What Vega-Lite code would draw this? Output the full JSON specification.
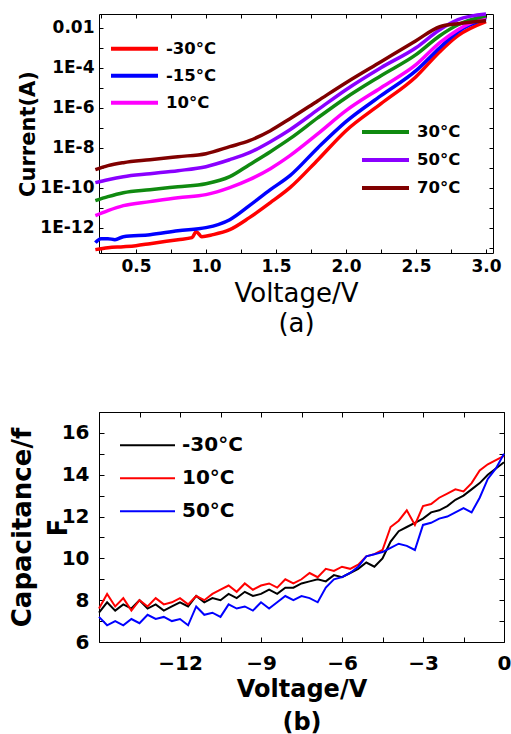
{
  "$schema": "https://vega.github.io/schema/vega-lite/v6.json",
  "padding": {"left": 8, "top": 6, "right": 0, "bottom": 0},
  "autosize": {"type": "pad"},
  "background": "white",
  "config": {
    "font": "DejaVu Sans",
    "view": {"stroke": "#000", "strokeWidth": 1},
    "axis": {"domain": false, "grid": false, "tickColor": "#000", "labelColor": "#000", "titleColor": "#000", "labelFont": "DejaVu Sans", "labelFontWeight": "bold", "titleFont": "DejaVu Sans", "labelFlush": false, "labelOverlap": false},
    "legend": {"labelColor": "#000", "labelFont": "DejaVu Sans", "labelFontWeight": "bold", "symbolType": "stroke", "padding": 0, "rowPadding": 0}
  },
  "spacing": 64,
  "datasets": {
    "iv_cold": [
      {"V": 0.21, "I": 7.94e-14, "T": "-30°C"}, {"V": 0.3, "I": 1e-13, "T": "-30°C"}, {"V": 0.41, "I": 1.12e-13, "T": "-30°C"}, {"V": 0.5, "I": 1.26e-13, "T": "-30°C"}, {"V": 0.6, "I": 1.58e-13, "T": "-30°C"}, {"V": 0.8, "I": 2.51e-13, "T": "-30°C"}, {"V": 0.9, "I": 3.16e-13, "T": "-30°C"}, {"V": 0.93, "I": 6.31e-13, "T": "-30°C"}, {"V": 0.97, "I": 3.55e-13, "T": "-30°C"}, {"V": 1.05, "I": 4.47e-13, "T": "-30°C"}, {"V": 1.17, "I": 7.94e-13, "T": "-30°C"}, {"V": 1.31, "I": 3.16e-12, "T": "-30°C"}, {"V": 1.46, "I": 1.78e-11, "T": "-30°C"}, {"V": 1.6, "I": 1e-10, "T": "-30°C"}, {"V": 1.8, "I": 2.51e-9, "T": "-30°C"}, {"V": 2.0, "I": 7.08e-8, "T": "-30°C"}, {"V": 2.25, "I": 1.58e-6, "T": "-30°C"}, {"V": 2.5, "I": 3.55e-5, "T": "-30°C"}, {"V": 2.67, "I": 6.31e-4, "T": "-30°C"}, {"V": 2.8, "I": 3.98e-3, "T": "-30°C"}, {"V": 3.0, "I": 2.0e-2, "T": "-30°C"},
      {"V": 0.21, "I": 1.78e-13, "T": "-15°C"}, {"V": 0.25, "I": 2.82e-13, "T": "-15°C"}, {"V": 0.3, "I": 2.82e-13, "T": "-15°C"}, {"V": 0.35, "I": 2.51e-13, "T": "-15°C"}, {"V": 0.41, "I": 3.55e-13, "T": "-15°C"}, {"V": 0.6, "I": 4.47e-13, "T": "-15°C"}, {"V": 0.8, "I": 7.08e-13, "T": "-15°C"}, {"V": 1.0, "I": 1e-12, "T": "-15°C"}, {"V": 1.17, "I": 2.51e-12, "T": "-15°C"}, {"V": 1.31, "I": 1.26e-11, "T": "-15°C"}, {"V": 1.46, "I": 7.94e-11, "T": "-15°C"}, {"V": 1.6, "I": 3.98e-10, "T": "-15°C"}, {"V": 1.8, "I": 1e-8, "T": "-15°C"}, {"V": 2.0, "I": 2.0e-7, "T": "-15°C"}, {"V": 2.25, "I": 3.98e-6, "T": "-15°C"}, {"V": 2.5, "I": 7.08e-5, "T": "-15°C"}, {"V": 2.67, "I": 1e-3, "T": "-15°C"}, {"V": 2.8, "I": 6.31e-3, "T": "-15°C"}, {"V": 3.0, "I": 2.82e-2, "T": "-15°C"},
      {"V": 0.21, "I": 3.98e-12, "T": "10°C"}, {"V": 0.3, "I": 7.08e-12, "T": "10°C"}, {"V": 0.41, "I": 1.26e-11, "T": "10°C"}, {"V": 0.6, "I": 2.0e-11, "T": "10°C"}, {"V": 0.8, "I": 3.16e-11, "T": "10°C"}, {"V": 1.0, "I": 4.47e-11, "T": "10°C"}, {"V": 1.17, "I": 1e-10, "T": "10°C"}, {"V": 1.31, "I": 2.51e-10, "T": "10°C"}, {"V": 1.46, "I": 8.91e-10, "T": "10°C"}, {"V": 1.6, "I": 3.98e-9, "T": "10°C"}, {"V": 1.8, "I": 5.01e-8, "T": "10°C"}, {"V": 2.0, "I": 7.08e-7, "T": "10°C"}, {"V": 2.25, "I": 1e-5, "T": "10°C"}, {"V": 2.5, "I": 1.41e-4, "T": "10°C"}, {"V": 2.67, "I": 1.78e-3, "T": "10°C"}, {"V": 2.8, "I": 7.94e-3, "T": "10°C"}, {"V": 3.0, "I": 3.55e-2, "T": "10°C"}
    ],
    "iv_warm": [
      {"V": 0.21, "I": 2.24e-11, "T": "30°C"}, {"V": 0.3, "I": 3.55e-11, "T": "30°C"}, {"V": 0.41, "I": 5.62e-11, "T": "30°C"}, {"V": 0.6, "I": 7.94e-11, "T": "30°C"}, {"V": 0.8, "I": 1.12e-10, "T": "30°C"}, {"V": 1.0, "I": 1.58e-10, "T": "30°C"}, {"V": 1.17, "I": 3.55e-10, "T": "30°C"}, {"V": 1.31, "I": 1.41e-9, "T": "30°C"}, {"V": 1.46, "I": 6.31e-9, "T": "30°C"}, {"V": 1.6, "I": 2.82e-8, "T": "30°C"}, {"V": 1.8, "I": 3.16e-7, "T": "30°C"}, {"V": 2.0, "I": 3.16e-6, "T": "30°C"}, {"V": 2.25, "I": 3.98e-5, "T": "30°C"}, {"V": 2.5, "I": 4.47e-4, "T": "30°C"}, {"V": 2.67, "I": 3.98e-3, "T": "30°C"}, {"V": 2.8, "I": 1.41e-2, "T": "30°C"}, {"V": 3.0, "I": 3.98e-2, "T": "30°C"},
      {"V": 0.21, "I": 1.78e-10, "T": "50°C"}, {"V": 0.3, "I": 2.51e-10, "T": "50°C"}, {"V": 0.41, "I": 3.55e-10, "T": "50°C"}, {"V": 0.6, "I": 5.01e-10, "T": "50°C"}, {"V": 0.8, "I": 7.08e-10, "T": "50°C"}, {"V": 1.0, "I": 1.12e-9, "T": "50°C"}, {"V": 1.17, "I": 2.51e-9, "T": "50°C"}, {"V": 1.31, "I": 5.62e-9, "T": "50°C"}, {"V": 1.46, "I": 2.0e-8, "T": "50°C"}, {"V": 1.6, "I": 7.94e-8, "T": "50°C"}, {"V": 1.8, "I": 7.94e-7, "T": "50°C"}, {"V": 2.0, "I": 7.94e-6, "T": "50°C"}, {"V": 2.25, "I": 1e-4, "T": "50°C"}, {"V": 2.5, "I": 1e-3, "T": "50°C"}, {"V": 2.67, "I": 7.94e-3, "T": "50°C"}, {"V": 2.8, "I": 2.51e-2, "T": "50°C"}, {"V": 3.0, "I": 4.8e-2, "T": "50°C"},
      {"V": 0.21, "I": 7.94e-10, "T": "70°C"}, {"V": 0.3, "I": 1.26e-9, "T": "70°C"}, {"V": 0.41, "I": 1.78e-9, "T": "70°C"}, {"V": 0.6, "I": 2.51e-9, "T": "70°C"}, {"V": 0.8, "I": 3.55e-9, "T": "70°C"}, {"V": 1.0, "I": 5.01e-9, "T": "70°C"}, {"V": 1.17, "I": 1.12e-8, "T": "70°C"}, {"V": 1.31, "I": 2.24e-8, "T": "70°C"}, {"V": 1.46, "I": 7.08e-8, "T": "70°C"}, {"V": 1.6, "I": 2.82e-7, "T": "70°C"}, {"V": 1.8, "I": 2.24e-6, "T": "70°C"}, {"V": 2.0, "I": 1.78e-5, "T": "70°C"}, {"V": 2.25, "I": 2.0e-4, "T": "70°C"}, {"V": 2.5, "I": 2.24e-3, "T": "70°C"}, {"V": 2.67, "I": 1.12e-2, "T": "70°C"}, {"V": 2.8, "I": 1.58e-2, "T": "70°C"}, {"V": 3.0, "I": 2.24e-2, "T": "70°C"}
    ],
    "cv_a": [
      {"V": -15, "C": 7.4, "T": "-30°C"}, {"V": -14.7, "C": 7.9, "T": "-30°C"}, {"V": -14.4, "C": 7.5, "T": "-30°C"}, {"V": -14.1, "C": 7.8, "T": "-30°C"}, {"V": -13.8, "C": 7.6, "T": "-30°C"}, {"V": -13.5, "C": 8.0, "T": "-30°C"}, {"V": -13.2, "C": 7.6, "T": "-30°C"}, {"V": -12.9, "C": 7.8, "T": "-30°C"}, {"V": -12.6, "C": 7.5, "T": "-30°C"}, {"V": -12.3, "C": 7.7, "T": "-30°C"}, {"V": -12, "C": 7.9, "T": "-30°C"}, {"V": -11.7, "C": 7.7, "T": "-30°C"}, {"V": -11.4, "C": 8.2, "T": "-30°C"}, {"V": -11.1, "C": 7.9, "T": "-30°C"}, {"V": -10.8, "C": 8.1, "T": "-30°C"}, {"V": -10.5, "C": 8.0, "T": "-30°C"}, {"V": -10.2, "C": 8.3, "T": "-30°C"}, {"V": -9.9, "C": 8.1, "T": "-30°C"}, {"V": -9.6, "C": 8.4, "T": "-30°C"}, {"V": -9.3, "C": 8.2, "T": "-30°C"}, {"V": -9, "C": 8.3, "T": "-30°C"}, {"V": -8.7, "C": 8.5, "T": "-30°C"}, {"V": -8.4, "C": 8.3, "T": "-30°C"}, {"V": -8.1, "C": 8.6, "T": "-30°C"}, {"V": -7.8, "C": 8.6, "T": "-30°C"}, {"V": -7.5, "C": 8.8, "T": "-30°C"}, {"V": -7.2, "C": 8.9, "T": "-30°C"}, {"V": -6.9, "C": 9.0, "T": "-30°C"}, {"V": -6.6, "C": 8.9, "T": "-30°C"}, {"V": -6.3, "C": 9.2, "T": "-30°C"}, {"V": -6, "C": 9.1, "T": "-30°C"}, {"V": -5.7, "C": 9.3, "T": "-30°C"}, {"V": -5.4, "C": 9.5, "T": "-30°C"}, {"V": -5.1, "C": 9.8, "T": "-30°C"}, {"V": -4.8, "C": 9.6, "T": "-30°C"}, {"V": -4.5, "C": 10.0, "T": "-30°C"}, {"V": -4.2, "C": 10.8, "T": "-30°C"}, {"V": -3.9, "C": 11.3, "T": "-30°C"}, {"V": -3.6, "C": 11.5, "T": "-30°C"}, {"V": -3.3, "C": 11.7, "T": "-30°C"}, {"V": -3, "C": 11.9, "T": "-30°C"}, {"V": -2.7, "C": 12.2, "T": "-30°C"}, {"V": -2.4, "C": 12.3, "T": "-30°C"}, {"V": -2.1, "C": 12.5, "T": "-30°C"}, {"V": -1.8, "C": 12.8, "T": "-30°C"}, {"V": -1.5, "C": 13.0, "T": "-30°C"}, {"V": -1.2, "C": 13.3, "T": "-30°C"}, {"V": -0.9, "C": 13.6, "T": "-30°C"}, {"V": -0.6, "C": 14.0, "T": "-30°C"}, {"V": -0.3, "C": 14.3, "T": "-30°C"}, {"V": 0, "C": 14.6, "T": "-30°C"},
      {"V": -15, "C": 7.6, "T": "10°C"}, {"V": -14.7, "C": 8.3, "T": "10°C"}, {"V": -14.4, "C": 7.7, "T": "10°C"}, {"V": -14.1, "C": 8.1, "T": "10°C"}, {"V": -13.8, "C": 7.5, "T": "10°C"}, {"V": -13.5, "C": 8.0, "T": "10°C"}, {"V": -13.2, "C": 7.7, "T": "10°C"}, {"V": -12.9, "C": 8.1, "T": "10°C"}, {"V": -12.6, "C": 7.8, "T": "10°C"}, {"V": -12.3, "C": 7.9, "T": "10°C"}, {"V": -12, "C": 8.1, "T": "10°C"}, {"V": -11.7, "C": 7.8, "T": "10°C"}, {"V": -11.4, "C": 8.2, "T": "10°C"}, {"V": -11.1, "C": 8.0, "T": "10°C"}, {"V": -10.8, "C": 8.3, "T": "10°C"}, {"V": -10.5, "C": 8.5, "T": "10°C"}, {"V": -10.2, "C": 8.7, "T": "10°C"}, {"V": -9.9, "C": 8.4, "T": "10°C"}, {"V": -9.6, "C": 8.8, "T": "10°C"}, {"V": -9.3, "C": 8.5, "T": "10°C"}, {"V": -9, "C": 8.7, "T": "10°C"}, {"V": -8.7, "C": 8.8, "T": "10°C"}, {"V": -8.4, "C": 8.6, "T": "10°C"}, {"V": -8.1, "C": 9.0, "T": "10°C"}, {"V": -7.8, "C": 8.8, "T": "10°C"}, {"V": -7.5, "C": 9.0, "T": "10°C"}, {"V": -7.2, "C": 9.3, "T": "10°C"}, {"V": -6.9, "C": 9.1, "T": "10°C"}, {"V": -6.6, "C": 9.5, "T": "10°C"}, {"V": -6.3, "C": 9.4, "T": "10°C"}, {"V": -6, "C": 9.6, "T": "10°C"}, {"V": -5.7, "C": 9.5, "T": "10°C"}, {"V": -5.4, "C": 9.7, "T": "10°C"}, {"V": -5.1, "C": 10.1, "T": "10°C"}, {"V": -4.8, "C": 10.2, "T": "10°C"}, {"V": -4.5, "C": 10.4, "T": "10°C"}, {"V": -4.2, "C": 11.5, "T": "10°C"}, {"V": -3.9, "C": 11.8, "T": "10°C"}, {"V": -3.6, "C": 12.3, "T": "10°C"}, {"V": -3.3, "C": 11.6, "T": "10°C"}, {"V": -3, "C": 12.5, "T": "10°C"}, {"V": -2.7, "C": 12.6, "T": "10°C"}, {"V": -2.4, "C": 12.9, "T": "10°C"}, {"V": -2.1, "C": 13.1, "T": "10°C"}, {"V": -1.8, "C": 13.3, "T": "10°C"}, {"V": -1.5, "C": 13.2, "T": "10°C"}, {"V": -1.2, "C": 13.6, "T": "10°C"}, {"V": -0.9, "C": 14.2, "T": "10°C"}, {"V": -0.6, "C": 14.5, "T": "10°C"}, {"V": -0.3, "C": 14.7, "T": "10°C"}, {"V": 0, "C": 14.9, "T": "10°C"}
    ],
    "cv_b": [
      {"V": -15, "C": 7.2, "T": "50°C"}, {"V": -14.7, "C": 6.8, "T": "50°C"}, {"V": -14.4, "C": 7.0, "T": "50°C"}, {"V": -14.1, "C": 6.8, "T": "50°C"}, {"V": -13.8, "C": 7.1, "T": "50°C"}, {"V": -13.5, "C": 6.9, "T": "50°C"}, {"V": -13.2, "C": 7.3, "T": "50°C"}, {"V": -12.9, "C": 7.1, "T": "50°C"}, {"V": -12.6, "C": 7.2, "T": "50°C"}, {"V": -12.3, "C": 7.0, "T": "50°C"}, {"V": -12, "C": 7.1, "T": "50°C"}, {"V": -11.7, "C": 6.8, "T": "50°C"}, {"V": -11.4, "C": 7.7, "T": "50°C"}, {"V": -11.1, "C": 7.3, "T": "50°C"}, {"V": -10.8, "C": 7.4, "T": "50°C"}, {"V": -10.5, "C": 7.2, "T": "50°C"}, {"V": -10.2, "C": 7.8, "T": "50°C"}, {"V": -9.9, "C": 7.6, "T": "50°C"}, {"V": -9.6, "C": 7.7, "T": "50°C"}, {"V": -9.3, "C": 7.5, "T": "50°C"}, {"V": -9, "C": 7.9, "T": "50°C"}, {"V": -8.7, "C": 7.6, "T": "50°C"}, {"V": -8.4, "C": 7.9, "T": "50°C"}, {"V": -8.1, "C": 8.2, "T": "50°C"}, {"V": -7.8, "C": 8.0, "T": "50°C"}, {"V": -7.5, "C": 8.2, "T": "50°C"}, {"V": -7.2, "C": 8.1, "T": "50°C"}, {"V": -6.9, "C": 7.9, "T": "50°C"}, {"V": -6.6, "C": 8.6, "T": "50°C"}, {"V": -6.3, "C": 9.0, "T": "50°C"}, {"V": -6, "C": 9.1, "T": "50°C"}, {"V": -5.7, "C": 9.3, "T": "50°C"}, {"V": -5.4, "C": 9.6, "T": "50°C"}, {"V": -5.1, "C": 10.1, "T": "50°C"}, {"V": -4.8, "C": 10.2, "T": "50°C"}, {"V": -4.5, "C": 10.3, "T": "50°C"}, {"V": -4.2, "C": 10.5, "T": "50°C"}, {"V": -3.9, "C": 10.7, "T": "50°C"}, {"V": -3.6, "C": 10.6, "T": "50°C"}, {"V": -3.3, "C": 10.4, "T": "50°C"}, {"V": -3, "C": 11.6, "T": "50°C"}, {"V": -2.7, "C": 11.7, "T": "50°C"}, {"V": -2.4, "C": 11.9, "T": "50°C"}, {"V": -2.1, "C": 12.0, "T": "50°C"}, {"V": -1.8, "C": 12.2, "T": "50°C"}, {"V": -1.5, "C": 12.4, "T": "50°C"}, {"V": -1.2, "C": 12.2, "T": "50°C"}, {"V": -0.9, "C": 12.9, "T": "50°C"}, {"V": -0.6, "C": 13.8, "T": "50°C"}, {"V": -0.3, "C": 14.3, "T": "50°C"}, {"V": 0, "C": 15.0, "T": "50°C"}
    ]
  },
  "vconcat": [
    {
      "width": 394,
      "height": 239,
      "layer": [
        {
          "data": {"name": "iv_cold"},
          "mark": {"type": "line", "strokeWidth": 3.5, "interpolate": "monotone"},
          "encoding": {
            "x": {"field": "V", "type": "quantitative", "scale": {"domain": [0.236, 3.05], "nice": false, "zero": false},
              "axis": {"values": [0.25, 0.5, 0.75, 1.0, 1.25, 1.5, 1.75, 2.0, 2.25, 2.5, 2.75, 3.0], "labelExpr": "abs(datum.value*2 - round(datum.value*2)) < 0.001 ? format(datum.value, '.1f') : ''", "labelFontSize": 17, "tickSize": -4, "labelPadding": 9, "title": ["Voltage/V", "(a)"], "titleFontSize": 26, "titleFontWeight": "normal", "titleLineHeight": 30, "titlePadding": 6}},
            "y": {"field": "I", "type": "quantitative", "scale": {"type": "log", "domain": [5.4e-14, 0.0485], "nice": false},
              "axis": {"values": [1e-13, 1e-12, 1e-11, 1e-10, 1e-9, 1e-8, 1e-7, 1e-6, 1e-5, 1e-4, 1e-3, 1e-2], "labelExpr": "(round(log(datum.value)/LN10) % 2 == 0) ? (round(log(datum.value)/LN10) == -2 ? '0.01' : '1E' + round(log(datum.value)/LN10)) : ''", "labelFontSize": 17, "tickSize": -4, "labelPadding": 9, "title": "Current(A)", "titleFontSize": 21, "titleFontWeight": "bold", "titlePadding": 1}},
            "color": {"field": "T", "type": "nominal", "scale": {"domain": ["-30°C", "-15°C", "10°C"], "range": ["#ff0000", "#0000ff", "#ff00ff"]},
              "legend": {"title": null, "orient": "none", "legendX": 10, "legendY": 21.5, "symbolSize": 2209, "symbolStrokeWidth": 4, "clipHeight": 26.5, "labelFontSize": 16.5, "labelOffset": 6}}
          }
        },
        {
          "data": {"name": "iv_warm"},
          "mark": {"type": "line", "strokeWidth": 3.5, "interpolate": "monotone"},
          "encoding": {
            "x": {"field": "V", "type": "quantitative", "scale": {"domain": [0.236, 3.05], "nice": false, "zero": false},
              "axis": {"orient": "top", "values": [0.25, 0.5, 0.75, 1.0, 1.25, 1.5, 1.75, 2.0, 2.25, 2.5, 2.75, 3.0], "labels": false, "tickSize": -4, "title": null}},
            "y": {"field": "I", "type": "quantitative", "scale": {"type": "log", "domain": [5.4e-14, 0.0485], "nice": false},
              "axis": {"orient": "right", "values": [1e-13, 1e-12, 1e-11, 1e-10, 1e-9, 1e-8, 1e-7, 1e-6, 1e-5, 1e-4, 1e-3, 1e-2], "labels": false, "tickSize": -4, "title": null}},
            "color": {"field": "T", "type": "nominal", "scale": {"domain": ["30°C", "50°C", "70°C"], "range": ["#108a10", "#8a00ff", "#800000"]},
              "legend": {"title": null, "orient": "none", "legendX": 261, "legendY": 104.4, "symbolSize": 2209, "symbolStrokeWidth": 4, "clipHeight": 27.2, "labelFontSize": 16.5, "labelOffset": 6}}
          }
        }
      ],
      "resolve": {"scale": {"color": "independent"}, "axis": {"x": "independent", "y": "independent"}, "legend": {"color": "independent"}}
    },
    {
      "width": 405,
      "height": 230,
      "layer": [
        {
          "data": {"name": "cv_a"},
          "mark": {"type": "line", "strokeWidth": 2},
          "encoding": {
            "x": {"field": "V", "type": "quantitative", "scale": {"domain": [-15, 0], "nice": false, "zero": false},
              "axis": {"values": [-15, -13.5, -12, -10.5, -9, -7.5, -6, -4.5, -3, -1.5, 0], "labelExpr": "(datum.value % 3 == 0 && datum.value > -15) ? format(datum.value, 'd') : ''", "labelFontSize": 20, "tickSize": -5, "labelPadding": 16, "title": ["Voltage/V", "(b)"], "titleFontSize": 24, "titleFontWeight": "bold", "titleLineHeight": 33, "titlePadding": 4}},
            "y": {"field": "C", "type": "quantitative", "scale": {"domain": [6, 17], "nice": false, "zero": false},
              "axis": {"values": [6, 7, 8, 9, 10, 11, 12, 13, 14, 15, 16, 17], "labelExpr": "(datum.value % 2 == 0 && datum.value < 17) ? format(datum.value, 'd') : ''", "labelFontSize": 20, "tickSize": -5, "labelPadding": 15, "title": ["Capacitance/f", "F"], "titleFontSize": 26, "titleFontWeight": "bold", "titleLineHeight": 36, "titlePadding": -10}},
            "color": {"field": "T", "type": "nominal", "scale": {"domain": ["-30°C", "10°C", "50°C"], "range": ["#000000", "#ff0000", "#0000ff"]},
              "legend": {"title": null, "orient": "none", "legendX": 20, "legendY": 415, "symbolSize": 3025, "symbolStrokeWidth": 2, "clipHeight": 32.5, "labelFontSize": 20, "labelOffset": 6}}
          }
        },
        {
          "data": {"name": "cv_b"},
          "mark": {"type": "line", "strokeWidth": 2},
          "encoding": {
            "x": {"field": "V", "type": "quantitative", "scale": {"domain": [-15, 0], "nice": false, "zero": false},
              "axis": {"orient": "top", "values": [-15, -13.5, -12, -10.5, -9, -7.5, -6, -4.5, -3, -1.5, 0], "labels": false, "tickSize": -5, "title": null}},
            "y": {"field": "C", "type": "quantitative", "scale": {"domain": [6, 17], "nice": false, "zero": false},
              "axis": {"orient": "right", "values": [6, 7, 8, 9, 10, 11, 12, 13, 14, 15, 16, 17], "labels": false, "tickSize": -5, "title": null}},
            "color": {"field": "T", "type": "nominal", "scale": {"domain": ["-30°C", "10°C", "50°C"], "range": ["#000000", "#ff0000", "#0000ff"]},
              "legend": {"title": null, "orient": "none", "legendX": 20, "legendY": 415, "symbolSize": 3025, "symbolStrokeWidth": 2, "clipHeight": 32.5, "labelFontSize": 20, "labelOffset": 6}}
          }
        }
      ],
      "resolve": {"axis": {"x": "independent", "y": "independent"}}
    }
  ]
}
